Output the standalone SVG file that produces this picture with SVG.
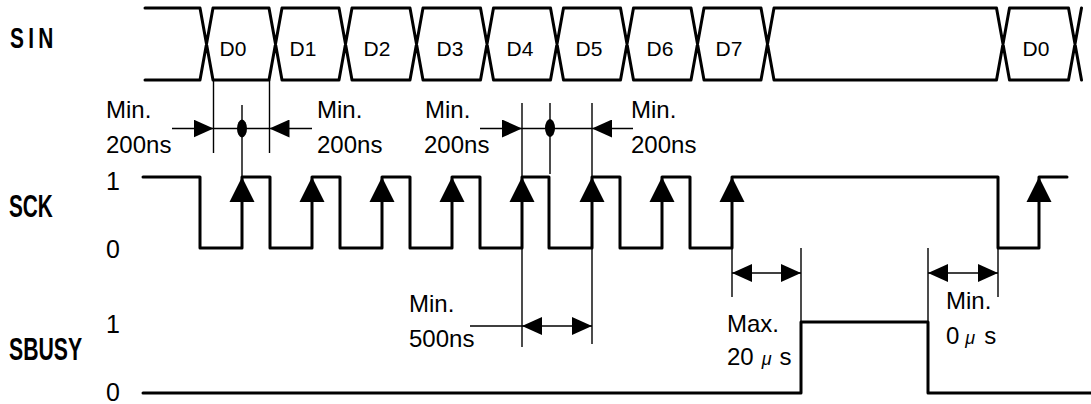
<svg xmlns="http://www.w3.org/2000/svg" xmlns:xlink="http://www.w3.org/1999/xlink" width="1091" height="404" viewBox="0 0 1091 404">
<style>
.wave{fill:none;stroke:#000;stroke-width:3;stroke-linecap:round;stroke-linejoin:round}
.thin{fill:none;stroke:#000;stroke-width:1.4}
.fill{fill:#000;stroke:none}
.sig{font-family:"Liberation Sans",Arial,sans-serif;font-weight:bold;fill:#000}
.lvl{font-family:"Liberation Sans",Arial,sans-serif;font-size:25px;fill:#000}
.dat{font-family:"Liberation Sans",Arial,sans-serif;font-size:21px;fill:#000;text-anchor:middle}
.ann{font-family:"Liberation Sans",Arial,sans-serif;font-size:24px;fill:#000}
.mu{font-size:18px;font-style:italic}
</style>
<defs>
<marker id="ah" viewBox="0 0 20 18" refX="20" refY="9" markerWidth="20" markerHeight="18" markerUnits="userSpaceOnUse" orient="auto-start-reverse">
<path d="M0,0 L20,9 L0,18 Z" fill="#000"/>
</marker>
<path id="up" d="M0,0 L12.5,25 L-12.5,25 Z" fill="#000"/>
</defs>

<g id="labels">
<text class="sig" font-size="29" transform="translate(10,48) scale(0.72,1)" letter-spacing="6">SIN</text>
<text class="sig" font-size="31" transform="translate(9,217) scale(0.67,1)">SCK</text>
<text class="sig" font-size="31" transform="translate(9,360) scale(0.685,1)">SBUSY</text>
<text class="lvl" x="106" y="190">1</text>
<text class="lvl" x="106" y="258">0</text>
<text class="lvl" x="106" y="333">1</text>
<text class="lvl" x="106" y="401">0</text>
</g>

<g id="sin">
<path class="wave" d="M145,8 H200 M213,8 H269 M282,8 H339 M352,8 H410 M423,8 H480.5 M493.5,8 H550.5 M563.5,8 H620.5 M633.5,8 H691 M704,8 H761 M774,8 H996.5 M1009.5,8 H1068.5
M145,80 H200 M213,80 H269 M282,80 H339 M352,80 H410 M423,80 H480.5 M493.5,80 H550.5 M563.5,80 H620.5 M633.5,80 H691 M704,80 H761 M774,80 H996.5 M1009.5,80 H1068.5
M200,8 L213,80 M200,80 L213,8
M269,8 L282,80 M269,80 L282,8
M339,8 L352,80 M339,80 L352,8
M410,8 L423,80 M410,80 L423,8
M480.5,8 L493.5,80 M480.5,80 L493.5,8
M550.5,8 L563.5,80 M550.5,80 L563.5,8
M620.5,8 L633.5,80 M620.5,80 L633.5,8
M691,8 L704,80 M691,80 L704,8
M761,8 L774,80 M761,80 L774,8
M996.5,8 L1009.5,80 M996.5,80 L1009.5,8
M1068.5,8 L1081.5,80 M1068.5,80 L1081.5,8"/>
<text class="dat" x="233" y="56">D0</text>
<text class="dat" x="303" y="56">D1</text>
<text class="dat" x="377" y="56">D2</text>
<text class="dat" x="450" y="56">D3</text>
<text class="dat" x="520" y="56">D4</text>
<text class="dat" x="589" y="56">D5</text>
<text class="dat" x="660" y="56">D6</text>
<text class="dat" x="729" y="56">D7</text>
<text class="dat" x="1036" y="56">D0</text>
</g>

<g id="sck">
<path class="wave" d="M143,177 H200 V248 H242 V177 H270 V248 H312 V177 H340 V248 H382 V177 H410 V248 H452 V177 H480 V248 H522 V177 H549 V248 H592 V177 H620 V248 H662 V177 H690 V248 H732 V177 H998 V248 H1039 V177 H1067"/>
<use xlink:href="#up" x="242" y="177"/>
<use xlink:href="#up" x="312" y="177"/>
<use xlink:href="#up" x="382" y="177"/>
<use xlink:href="#up" x="452" y="177"/>
<use xlink:href="#up" x="522" y="177"/>
<use xlink:href="#up" x="592" y="177"/>
<use xlink:href="#up" x="662" y="177"/>
<use xlink:href="#up" x="732" y="177"/>
<use xlink:href="#up" x="1039" y="177"/>
</g>

<g id="sbusy">
<path class="wave" d="M143,393 H801 V322 H928 V393 H1091"/>
</g>

<g id="connectors">
<path class="thin" d="M213.5,80 V153 M269.5,80 V153 M242,105 V177 M213.5,128.5 H269.5"/>
<line class="thin" x1="172" y1="128.5" x2="213.5" y2="128.5" marker-end="url(#ah)"/>
<line class="thin" x1="312" y1="128.5" x2="269.5" y2="128.5" marker-end="url(#ah)"/>
<ellipse class="fill" cx="242" cy="128.5" rx="5" ry="9"/>
<path class="thin" d="M522,103 V177 M592,103 V177 M550,103 V174 M522,128.5 H592"/>
<line class="thin" x1="480" y1="128.5" x2="522" y2="128.5" marker-end="url(#ah)"/>
<line class="thin" x1="633" y1="128.5" x2="592" y2="128.5" marker-end="url(#ah)"/>
<ellipse class="fill" cx="550" cy="128" rx="5" ry="9"/>
<path class="thin" d="M522,248 V347 M592,248 V344 M470,326 H522"/>
<line class="thin" x1="522" y1="326" x2="592" y2="326" marker-start="url(#ah)" marker-end="url(#ah)"/>
<path class="thin" d="M732,248 V297 M801,248 V322"/>
<line class="thin" x1="732" y1="273" x2="801" y2="273" marker-start="url(#ah)" marker-end="url(#ah)"/>
<path class="thin" d="M928,248 V322 M998,248 V297"/>
<line class="thin" x1="928" y1="273" x2="998" y2="273" marker-start="url(#ah)" marker-end="url(#ah)"/>
</g>

<g id="annotations">
<text class="ann" x="106" y="118">Min.</text>
<text class="ann" x="106" y="153">200ns</text>
<text class="ann" x="317" y="118">Min.</text>
<text class="ann" x="317" y="153">200ns</text>
<text class="ann" x="425" y="118">Min.</text>
<text class="ann" x="424" y="153">200ns</text>
<text class="ann" x="631" y="118">Min.</text>
<text class="ann" x="631" y="153">200ns</text>
<text class="ann" x="409" y="312">Min.</text>
<text class="ann" x="409" y="347">500ns</text>
<text class="ann" x="727" y="332">Max.</text>
<text class="ann" x="727" y="365">20<tspan class="mu" dx="8">μ</tspan><tspan dx="8">s</tspan></text>
<text class="ann" x="946" y="309">Min.</text>
<text class="ann" x="946" y="344">0<tspan class="mu" dx="6">μ</tspan><tspan dx="9">s</tspan></text>
</g>
</svg>
